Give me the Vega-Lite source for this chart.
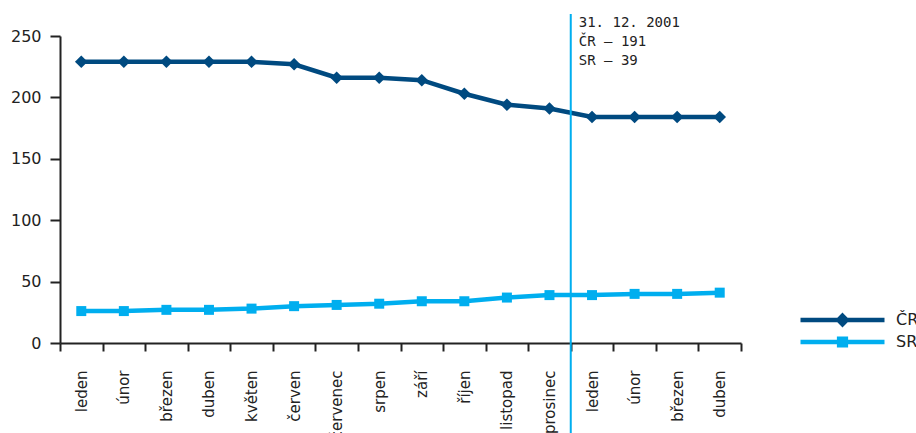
{
  "$schema": "https://vega.github.io/schema/vega-lite/v6.json",
  "autosize": "none",
  "padding": {"left": 60, "top": 36, "right": 175, "bottom": 90},
  "width": 681,
  "height": 307,
  "background": "white",
  "config": {
    "view": {"stroke": null},
    "font": "DejaVu Sans",
    "axis": {"domainColor": "#222", "domainWidth": 2, "tickColor": "#222", "tickWidth": 2, "labelColor": "#222", "labelFont": "DejaVu Sans", "grid": false, "title": null}
  },
  "datasets": {
    "pocty": [
      {"k": "leden 2001", "zeme": "ČR", "pocet": 229},
      {"k": "únor 2001", "zeme": "ČR", "pocet": 229},
      {"k": "březen 2001", "zeme": "ČR", "pocet": 229},
      {"k": "duben 2001", "zeme": "ČR", "pocet": 229},
      {"k": "květen 2001", "zeme": "ČR", "pocet": 229},
      {"k": "červen 2001", "zeme": "ČR", "pocet": 227},
      {"k": "červenec 2001", "zeme": "ČR", "pocet": 216},
      {"k": "srpen 2001", "zeme": "ČR", "pocet": 216},
      {"k": "září 2001", "zeme": "ČR", "pocet": 214},
      {"k": "říjen 2001", "zeme": "ČR", "pocet": 203},
      {"k": "listopad 2001", "zeme": "ČR", "pocet": 194},
      {"k": "prosinec 2001", "zeme": "ČR", "pocet": 191},
      {"k": "leden 2002", "zeme": "ČR", "pocet": 184},
      {"k": "únor 2002", "zeme": "ČR", "pocet": 184},
      {"k": "březen 2002", "zeme": "ČR", "pocet": 184},
      {"k": "duben 2002", "zeme": "ČR", "pocet": 184},
      {"k": "leden 2001", "zeme": "SR", "pocet": 26},
      {"k": "únor 2001", "zeme": "SR", "pocet": 26},
      {"k": "březen 2001", "zeme": "SR", "pocet": 27},
      {"k": "duben 2001", "zeme": "SR", "pocet": 27},
      {"k": "květen 2001", "zeme": "SR", "pocet": 28},
      {"k": "červen 2001", "zeme": "SR", "pocet": 30},
      {"k": "červenec 2001", "zeme": "SR", "pocet": 31},
      {"k": "srpen 2001", "zeme": "SR", "pocet": 32},
      {"k": "září 2001", "zeme": "SR", "pocet": 34},
      {"k": "říjen 2001", "zeme": "SR", "pocet": 34},
      {"k": "listopad 2001", "zeme": "SR", "pocet": 37},
      {"k": "prosinec 2001", "zeme": "SR", "pocet": 39},
      {"k": "leden 2002", "zeme": "SR", "pocet": 39},
      {"k": "únor 2002", "zeme": "SR", "pocet": 40},
      {"k": "březen 2002", "zeme": "SR", "pocet": 40},
      {"k": "duben 2002", "zeme": "SR", "pocet": 41}
    ],
    "predel": [{"k": "prosinec 2001"}]
  },
  "layer": [
    {
      "data": {"name": "pocty"},
      "encoding": {
        "x": {
          "field": "k", "type": "ordinal",
          "scale": {"type": "band", "paddingInner": 0, "paddingOuter": 0,
            "domain": ["leden 2001", "únor 2001", "březen 2001", "duben 2001", "květen 2001", "červen 2001", "červenec 2001", "srpen 2001", "září 2001", "říjen 2001", "listopad 2001", "prosinec 2001", "leden 2002", "únor 2002", "březen 2002", "duben 2002"]},
          "axis": {"tickBand": "extent", "tickSize": 8, "labelAngle": 270, "labelAlign": "right", "labelBaseline": "middle", "labelPadding": 19, "labelFontSize": 15, "labelExpr": "datum.value ? split(datum.value, ' ')[0] : ''"}
        },
        "y": {
          "field": "pocet", "type": "quantitative",
          "scale": {"domain": [0, 250], "nice": false},
          "axis": {"values": [0, 50, 100, 150, 200, 250], "tickSize": 10, "labelPadding": 9, "labelFontSize": 16}
        }
      },
      "layer": [
        {
          "mark": {"type": "line", "strokeWidth": 4.5},
          "encoding": {
            "color": {
              "field": "zeme", "type": "nominal",
              "scale": {"domain": ["ČR", "SR"], "range": ["#004a80", "#00aeef"]},
              "legend": {
                "title": null, "orient": "none", "legendX": 738, "legendY": 274,
                "padding": 0, "offset": 0, "clipHeight": 20, "rowPadding": 2,
                "symbolSize": 7056, "symbolStrokeWidth": 4.5, "labelOffset": 9,
                "labelFontSize": 16, "labelFont": "DejaVu Sans", "labelColor": "#222",
                "encode": {
                  "symbols": {
                    "update": {
                      "shape": {"signal": "datum.value === 'ČR' ? 'M-1,0H1M0,-0.1L0.1,0L0,0.1L-0.1,0Z' : 'M-1,0H1M-0.08,-0.08H0.08V0.08H-0.08Z'"},
                      "fill": {"signal": "scale('color', datum.value)"},
                      "stroke": {"signal": "scale('color', datum.value)"},
                      "strokeWidth": {"value": 4.5},
                      "opacity": {"value": 1},
                      "fillOpacity": {"value": 1}
                    }
                  }
                }
              }
            }
          }
        },
        {
          "transform": [{"filter": "datum.zeme === 'ČR'"}],
          "mark": {"type": "point", "filled": true, "opacity": 1, "shape": "diamond", "size": 160, "color": "#004a80"}
        },
        {
          "transform": [{"filter": "datum.zeme === 'SR'"}],
          "mark": {"type": "point", "filled": true, "opacity": 1, "shape": "square", "size": 100, "color": "#00aeef"}
        }
      ]
    },
    {
      "data": {"name": "predel"},
      "mark": {"type": "rule", "color": "#00aeef", "strokeWidth": 2},
      "encoding": {
        "x": {"field": "k", "type": "ordinal", "bandPosition": 1},
        "y": {"datum": 268},
        "y2": {"datum": -75}
      }
    },
    {
      "data": {"name": "predel"},
      "mark": {"type": "text", "text": ["31. 12. 2001", "ČR – 191", "SR – 39"], "font": "DejaVu Sans Mono", "fontSize": 14, "lineHeight": 19, "align": "left", "baseline": "alphabetic", "dx": 8, "color": "#222"},
      "encoding": {
        "x": {"field": "k", "type": "ordinal", "bandPosition": 1},
        "y": {"datum": 257}
      }
    }
  ]
}
